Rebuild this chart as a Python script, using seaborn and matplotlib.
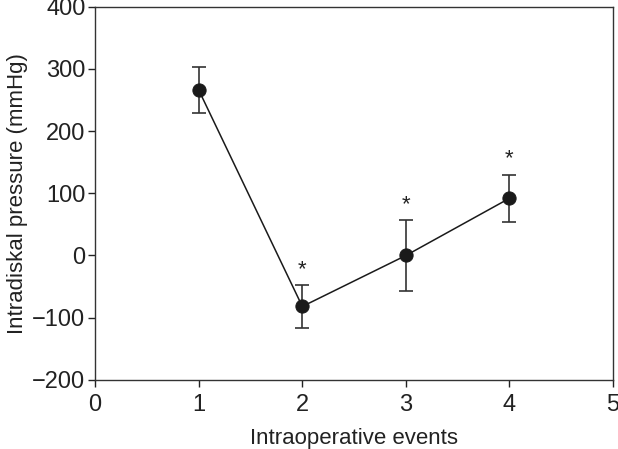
import matplotlib
matplotlib.use("Agg")
import matplotlib.pyplot as plt
import seaborn as sns
import pandas as pd

# ---------------- Data ----------------
events = [1, 2, 3, 4]
pressure = [266, -82, 0, 92]
pressure_err = [37, 34, 57, 38]
significant = [False, True, True, True]

df = pd.DataFrame({"event": events, "pressure": pressure, "err": pressure_err})

# ---------------- Style ----------------
sns.set_style("ticks")
plt.rcParams["font.family"] = ["Liberation Sans", "DejaVu Sans"]

fig, ax = plt.subplots(figsize=(6.18, 4.49), dpi=100)

# error bars
ax.errorbar(df["event"], df["pressure"], yerr=df["err"], fmt="none",
            ecolor="#333333", elinewidth=1.2, capsize=5, capthick=1.2, zorder=2)

# line + markers
sns.lineplot(data=df, x="event", y="pressure", ax=ax, color="#1a1a1a",
             linewidth=1.1, marker="o", markersize=9.5, markeredgecolor="#1a1a1a",
             zorder=3)

# significance stars
for x, y, e, s in zip(df["event"], df["pressure"], df["err"], significant):
    if s:
        ax.text(x, y + e + 8, "*", ha="center", va="bottom", fontsize=16, color="#222222")

ax.set_xlim(0, 5)
ax.set_ylim(-200, 400)
ax.set_xticks([0, 1, 2, 3, 4, 5])
ax.set_yticks([-200, -100, 0, 100, 200, 300, 400])
ax.set_xlabel("Intraoperative events", fontsize=16, color="#222222", labelpad=9)
ax.set_ylabel("Intradiskal pressure (mmHg)", fontsize=16, color="#222222", labelpad=3)
ax.tick_params(axis="both", labelsize=17, colors="#222222", length=5, width=1, direction="out")
ax.tick_params(axis="y", pad=2)
ax.tick_params(axis="x", pad=5)
ax.tick_params(top=False, right=False)

for side in ["top", "right", "left", "bottom"]:
    ax.spines[side].set_visible(True)
    ax.spines[side].set_color("#333333")
    ax.spines[side].set_linewidth(1.0)

fig.subplots_adjust(left=0.154, right=0.992, top=0.985, bottom=0.154)
fig.savefig("out.png", dpi=100)
plt.close()
